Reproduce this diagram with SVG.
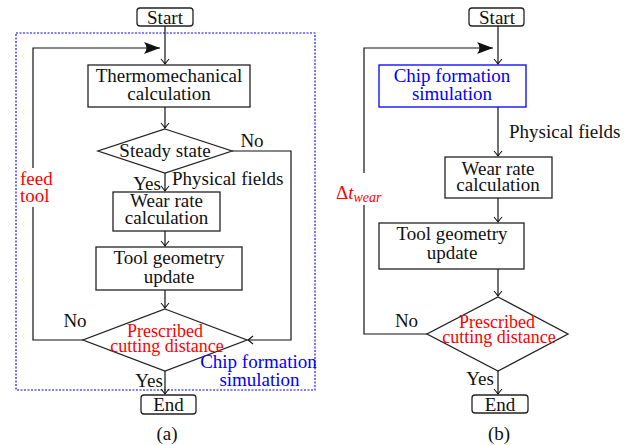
<svg xmlns="http://www.w3.org/2000/svg" width="634" height="445" viewBox="0 0 634 445">
<defs>
<style>
text{font-family:"Liberation Serif","Times New Roman",serif;font-size:19px;fill:#111;text-anchor:middle}
.red{fill:#f00}
.blue{fill:#00f}
.l{text-anchor:start}
.box{fill:#fff;stroke:#222;stroke-width:1.3}
.bbox{fill:#fff;stroke:#00f;stroke-width:1.3}
.con{fill:none;stroke:#111;stroke-width:1.2}
.frame{fill:none;stroke:#00f;stroke-width:1.1;stroke-dasharray:2 1.5}
</style>
<marker id="a" viewBox="-6 -5 7 10" markerWidth="7" markerHeight="10" refX="0" refY="0" orient="auto" markerUnits="userSpaceOnUse">
<path d="M-5,-4 Q-1.5,-1 0,0 Q-1.5,1 -5,4" fill="none" stroke="#111" stroke-width="1.1"/>
</marker>
<marker id="s" viewBox="-17 -7 18 14" markerWidth="18" markerHeight="14" refX="0" refY="0" orient="auto" markerUnits="userSpaceOnUse">
<path d="M0,0 L-16,-6 Q-11,0 -16,6 Z" fill="#111"/>
</marker>
</defs>

<rect class="frame" x="16" y="33" width="299" height="357"/>

<g id="connectors">
<path class="con" d="M165,26 V64" marker-end="url(#a)"/>
<path class="con" d="M165,107 V128" marker-end="url(#a)"/>
<path class="con" d="M165,173 V191" marker-end="url(#a)"/>
<path class="con" d="M165,231 V246" marker-end="url(#a)"/>
<path class="con" d="M165,290 V308" marker-end="url(#a)"/>
<path class="con" d="M165,371 V394" marker-end="url(#a)"/>
<path class="con" d="M232,151 H291 V340 H248" marker-end="url(#a)"/>
<path class="con" d="M83,340 H33 V207"/>
<path class="con" d="M33,168 V48 H160" marker-end="url(#s)"/>

<path class="con" d="M498,26 V64" marker-end="url(#a)"/>
<path class="con" d="M498,107 V156" marker-end="url(#a)"/>
<path class="con" d="M498,198 V222" marker-end="url(#a)"/>
<path class="con" d="M498,269 V296" marker-end="url(#a)"/>
<path class="con" d="M498,371 V394" marker-end="url(#a)"/>
<path class="con" d="M427,334 H364 V205"/>
<path class="con" d="M364,173 V48 H493" marker-end="url(#s)"/>
</g>

<g id="a-start"><rect class="box" x="137" y="8" width="56" height="18" rx="3"/><text x="165" y="24">Start</text></g>
<g id="a-thermo"><rect class="box" x="88" y="65" width="162" height="42"/><text x="169" y="82">Thermomechanical</text><text x="169" y="100">calculation</text></g>
<g id="a-steady"><polygon class="box" points="165,129 232,151 165,173 98,151"/><text x="165" y="157">Steady state</text></g>
<g id="a-wear"><rect class="box" x="113" y="192" width="107" height="39"/><text x="166.5" y="207">Wear rate</text><text x="166.5" y="224">calculation</text></g>
<g id="a-tool"><rect class="box" x="96" y="247" width="146" height="43"/><text x="169" y="264">Tool geometry</text><text x="169" y="283">update</text></g>
<g id="a-presc"><polygon class="box" points="165,309 247,340 165,371 83,340"/><text class="red" x="165" y="337" style="font-size:18px">Prescribed</text><text class="red" x="167" y="352" style="font-size:18px">cutting distance</text></g>
<g id="a-end"><rect class="box" x="141" y="395" width="55" height="19" rx="3"/><text x="168.5" y="411">End</text></g>

<g id="a-labels">
<text x="252" y="147">No</text>
<text x="147" y="190">Yes</text>
<text class="l" x="172" y="185">Physical fields</text>
<text class="red l" x="20" y="185">feed</text>
<text class="red l" x="20" y="202">tool</text>
<text x="75" y="327">No</text>
<text class="blue" x="258.5" y="368">Chip formation</text>
<text class="blue" x="259.5" y="386">simulation</text>
<text x="149" y="387">Yes</text>
<text x="167" y="440">(a)</text>
</g>

<g id="b-start"><rect class="box" x="469" y="8" width="55" height="18" rx="3"/><text x="497" y="24">Start</text></g>
<g id="b-chip"><rect class="bbox" x="379" y="65" width="147" height="42"/><text class="blue" x="452" y="82">Chip formation</text><text class="blue" x="452" y="100">simulation</text></g>
<g id="b-wear"><rect class="box" x="445" y="157" width="107" height="41"/><text x="498" y="175">Wear rate</text><text x="498" y="191">calculation</text></g>
<g id="b-tool"><rect class="box" x="379" y="223" width="145" height="46"/><text x="452" y="240">Tool geometry</text><text x="452" y="259">update</text></g>
<g id="b-presc"><polygon class="box" points="498,297 568,334 498,371 427,334"/><text class="red" x="497" y="328" style="font-size:18px">Prescribed</text><text class="red" x="499" y="343" style="font-size:18px">cutting distance</text></g>
<g id="b-end"><rect class="box" x="472" y="395" width="56" height="18" rx="3"/><text x="500" y="411">End</text></g>

<g id="b-labels">
<text class="l" x="509" y="138">Physical fields</text>
<text class="red l" x="336" y="199">Δ<tspan font-style="italic">t</tspan><tspan font-style="italic" font-size="14" dy="3">wear</tspan></text>
<text x="406.5" y="327">No</text>
<text x="480" y="385">Yes</text>
<text x="499" y="440">(b)</text>
</g>
</svg>
